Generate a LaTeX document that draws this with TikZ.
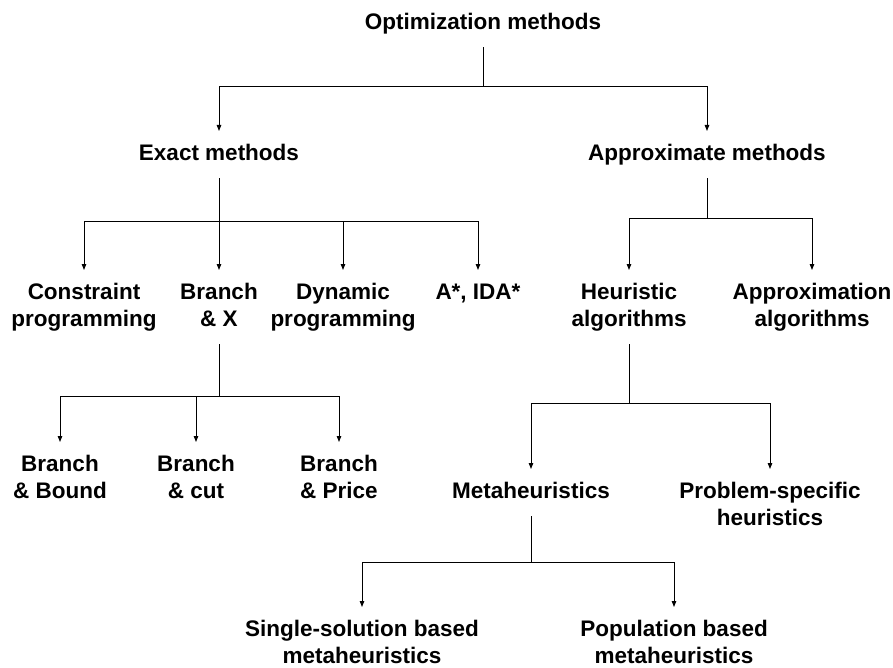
\documentclass[tikz,border=0pt]{standalone}
\usepackage{fontspec}
\setmainfont{Liberation Sans}
\usetikzlibrary{arrows.meta}
\begin{document}
\begin{tikzpicture}[x=1pt,y=-1pt,
  lbl/.style={anchor=north, align=center, inner xsep=0pt, inner ysep=10pt,
    font=\bfseries\fontsize{22.5}{27}\selectfont},
  conn/.style={line width=1pt},
  arr/.style={conn,-{Triangle[length=6pt,width=4.5pt]}}]
\useasboundingbox (0,0) rectangle (893,668);

% level 0
\node[lbl] (opt) at (483,0) {\strut Optimization methods};
% level 1
\node[lbl] (exact)  at (219,131) {\strut Exact methods};
\node[lbl] (approx) at (707,131) {\strut Approximate methods};
% level 2
\node[lbl] (cp)     at (84,270)  {\strut Constraint\\\strut programming};
\node[lbl] (bx)     at (219,270) {\strut Branch\\\strut \& X};
\node[lbl] (dp)     at (343,270) {\strut Dynamic\\\strut programming};
\node[lbl] (astar)  at (478,270) {\strut A*, IDA*};
\node[lbl] (heur)   at (629,270) {\strut Heuristic\\\strut algorithms};
\node[lbl] (apxalg) at (812,270) {\strut Approximation\\\strut algorithms};
% level 3
\node[lbl] (bb)   at (60,442)  {\strut Branch\\\strut \& Bound};
\node[lbl] (bc)   at (196,442) {\strut Branch\\\strut \& cut};
\node[lbl] (bp)   at (339,442) {\strut Branch\\\strut \& Price};
\node[lbl] (meta) at (531,469) {\strut Metaheuristics};
\node[lbl] (prob) at (770,469) {\strut Problem-specific\\\strut heuristics};
% level 4
\node[lbl] (ss)  at (362,607) {\strut Single-solution based\\\strut metaheuristics};
\node[lbl] (pop) at (674,607) {\strut Population based\\\strut metaheuristics};

% junctions
\coordinate (j0) at (483,87);
\coordinate (j1) at (219,222);
\coordinate (j2) at (707,219);
\coordinate (j3) at (219,396);
\coordinate (j4) at (629,403);
\coordinate (j5) at (531,562);

\draw[conn] (opt.south) -- (j0);
\draw[arr] (j0) -| (exact.north);
\draw[arr] (j0) -| (approx.north);

\draw[conn] (exact.south) -- (j1);
\draw[arr] (j1) -| (cp.north);
\draw[arr] (j1) -- (bx.north);
\draw[arr] (j1) -| (dp.north);
\draw[arr] (j1) -| (astar.north);

\draw[conn] (approx.south) -- (j2);
\draw[arr] (j2) -| (heur.north);
\draw[arr] (j2) -| (apxalg.north);

\draw[conn] (bx.south) -- (j3);
\draw[arr] (j3) -| (bb.north);
\draw[arr] (j3) -| (bc.north);
\draw[arr] (j3) -| (bp.north);

\draw[conn] (heur.south) -- (j4);
\draw[arr] (j4) -| (meta.north);
\draw[arr] (j4) -| (prob.north);

\draw[conn] (meta.south) -- (j5);
\draw[arr] (j5) -| (ss.north);
\draw[arr] (j5) -| (pop.north);
\end{tikzpicture}
\end{document}
